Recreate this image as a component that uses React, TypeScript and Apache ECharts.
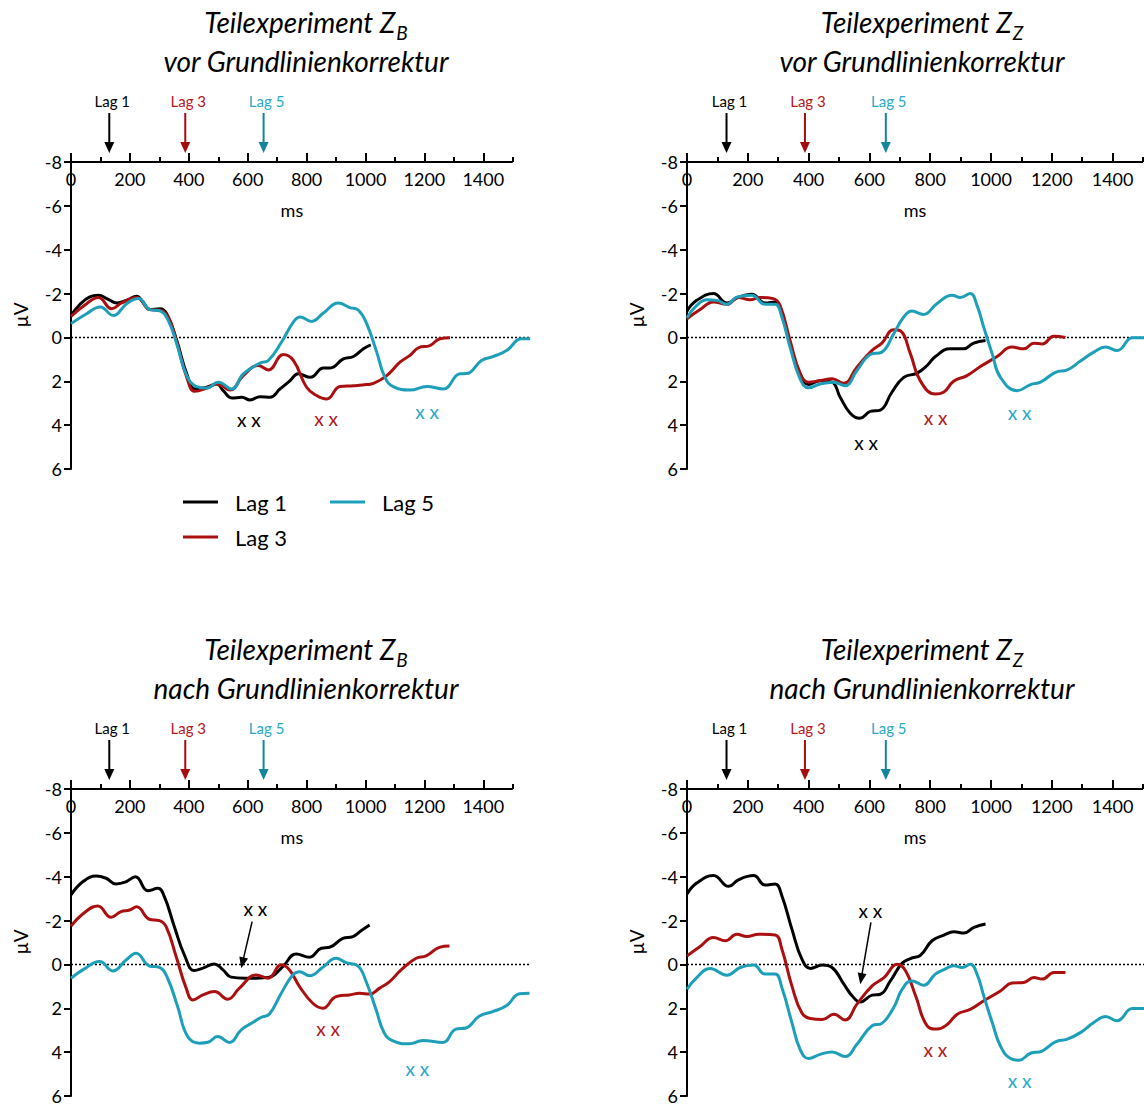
import React, { useEffect, useRef } from "react";
import * as echarts from "echarts";

const FONT = "Lato, 'Open Sans', sans-serif";

const LAG_NAMES = ["Lag 1", "Lag 3", "Lag 5"];
const LINE_COLORS = ["#000000", "#ab1010", "#1d9fba"];
const LABEL_COLORS = ["#000000", "#b3181b", "#2aa9c9"];
const ARROW_COLORS = ["#000000", "#a50d0d", "#12869f"];

// time axis: labelled range 0–1500 ms; the traces run slightly past its end
const X_AXIS_END = 1500;
const X_DATA_END = 1560;
const X_MAJOR = [0, 200, 400, 600, 800, 1000, 1200, 1400];
const X_MINOR = [100, 300, 500, 700, 900, 1100, 1300, 1500];
const Y_MIN = -8;
const Y_MAX = 6;
const Y_STEP = 2;

// Onset of each lag condition (ms), marked by arrows above the time axis
const ONSET_MS = [130, 388, 654];

const TITLE_MAIN = "Teilexperiment Z";

// ---- Teilexperiment Z_B, vor Grundlinienkorrektur: [ms, µV]
const zbVorLag1 = [
  [0, -1.0], [30, -1.5], [64, -1.85], [93, -1.92], [125, -1.75], [155, -1.57], [190, -1.7],
  [223, -1.88], [245, -1.6], [268, -1.27], [302, -1.31], [325, -1.08], [359, 0.14], [393, 1.66],
  [421, 2.35], [461, 2.27], [495, 2.12], [517, 2.43], [546, 2.76], [580, 2.73], [608, 2.85],
  [642, 2.7], [676, 2.73], [710, 2.35], [744, 1.97], [772, 1.66], [813, 1.82], [857, 1.39],
  [880, 1.39], [925, 0.98], [959, 0.87], [993, 0.52], [1018, 0.34],
];
const zbVorLag3 = [
  [0, -0.96], [53, -1.54], [93, -1.82], [138, -1.31], [172, -1.57], [223, -1.82], [268, -1.27],
  [302, -1.24], [330, -0.93], [359, 0.21], [393, 1.82], [421, 2.46], [461, 2.31], [495, 2.12],
  [540, 2.4], [585, 1.74], [636, 1.28], [670, 1.48], [721, 0.78], [755, 1.05], [800, 2.27],
  [834, 2.65], [868, 2.81], [913, 2.24], [959, 2.2], [1004, 2.15], [1027, 2.1], [1072, 1.74],
  [1117, 1.13], [1151, 0.82], [1180, 0.47], [1219, 0.37], [1253, 0.06], [1287, 0.02],
];
const zbVorLag5 = [
  [0, -0.63], [53, -1.08], [99, -1.39], [144, -1.0], [189, -1.54], [229, -1.77], [268, -1.27],
  [302, -1.21], [330, -0.78], [359, 0.29], [393, 1.74], [427, 2.24], [461, 2.31], [500, 2.04],
  [546, 2.35], [585, 1.66], [642, 1.17], [670, 1.05], [715, 0.21], [755, -0.7], [778, -0.93],
  [817, -0.73], [857, -1.11], [908, -1.57], [947, -1.36], [976, -1.24], [1004, -0.63],
  [1038, 0.67], [1066, 1.82], [1094, 2.24], [1151, 2.4], [1208, 2.24], [1264, 2.35],
  [1321, 1.66], [1343, 1.65], [1394, 1.05], [1434, 0.87], [1479, 0.6], [1530, 0.06], [1559, 0.06],
];

// ---- Teilexperiment Z_Z, vor Grundlinienkorrektur
const zzVorLag1 = [
  [0, -1.2], [32, -1.69], [87, -2.0], [131, -1.57], [169, -1.84], [213, -1.97], [257, -1.57],
  [290, -1.62], [306, -1.31], [339, 0.29], [372, 1.66], [400, 2.15], [438, 1.97], [477, 2.04],
  [504, 2.73], [537, 3.46], [568, 3.69], [603, 3.37], [636, 3.31], [674, 2.5], [713, 1.82],
  [757, 1.63], [790, 1.28], [817, 0.87], [866, 0.52], [910, 0.52], [943, 0.26], [982, 0.14],
];
const zzVorLag3 = [
  [0, -0.85], [43, -1.27], [87, -1.62], [131, -1.51], [169, -1.82], [208, -1.72], [240, -1.82],
  [284, -1.77], [306, -1.46], [339, 0.14], [372, 1.63], [400, 2.04], [438, 1.97], [477, 1.89],
  [515, 2.09], [559, 1.36], [608, 0.6], [641, 0.26], [680, -0.35], [702, -0.3], [735, 0.75],
  [767, 1.97], [817, 2.58], [844, 2.5], [877, 2.0], [921, 1.74], [965, 1.33], [1020, 0.87],
  [1069, 0.44], [1108, 0.52], [1141, 0.26], [1168, 0.3], [1207, -0.05], [1245, 0.0],
];
const zzVorLag5 = [
  [0, -0.9], [32, -1.46], [65, -1.72], [98, -1.69], [131, -1.51], [164, -1.84], [213, -1.92],
  [257, -1.51], [290, -1.51], [312, -0.93], [339, 0.44], [372, 1.89], [400, 2.3], [438, 2.12],
  [482, 2.04], [520, 2.2], [559, 1.51], [603, 0.78], [641, 0.67], [680, -0.17], [713, -0.93],
  [740, -1.2], [778, -1.05], [822, -1.54], [872, -1.92], [899, -1.82], [932, -2.0], [954, -1.46],
  [976, -0.47], [1004, 0.75], [1031, 1.82], [1086, 2.43], [1130, 2.15], [1163, 2.04],
  [1212, 1.59], [1251, 1.48], [1294, 1.08], [1338, 0.67], [1377, 0.44], [1415, 0.6],
  [1465, 0.02], [1503, 0.02], [1560, 0.02],
];

// ---- Teilexperiment Z_B, nach Grundlinienkorrektur
const zbNachLag1 = [
  [0, -3.17], [40, -3.77], [86, -4.03], [119, -3.93], [153, -3.67], [187, -3.77], [219, -4.0],
  [261, -3.36], [295, -3.47], [317, -3.09], [351, -1.72], [385, -0.43], [419, 0.28], [448, 0.17],
  [487, -0.02], [516, 0.25], [544, 0.58], [589, 0.63], [629, 0.63], [674, 0.58], [719, 0.1],
  [765, -0.48], [810, -0.33], [850, -0.74], [878, -0.78], [923, -1.19], [957, -1.27],
  [985, -1.54], [1014, -1.8],
];
const zbNachLag3 = [
  [0, -1.75], [40, -2.3], [91, -2.67], [136, -2.15], [170, -2.41], [199, -2.48], [223, -2.63],
  [266, -2.06], [300, -2.0], [323, -1.72], [357, -0.36], [391, 1.08], [414, 1.62], [448, 1.39],
  [487, 1.24], [532, 1.59], [572, 1.08], [629, 0.48], [669, 0.63], [714, 0.02], [742, 0.25],
  [776, 1.01], [821, 1.77], [855, 2.0], [900, 1.47], [945, 1.39], [980, 1.32], [1014, 1.35],
  [1048, 1.08], [1082, 0.78], [1121, 0.25], [1172, -0.28], [1206, -0.39], [1251, -0.78],
  [1285, -0.84],
];
const zbNachLag5 = [
  [0, 0.63], [40, 0.25], [97, -0.13], [142, 0.3], [187, -0.2], [221, -0.51], [266, 0.07],
  [300, 0.13], [328, 0.63], [362, 1.92], [396, 3.29], [436, 3.59], [465, 3.55], [498, 3.29],
  [538, 3.56], [578, 2.98], [617, 2.65], [646, 2.41], [674, 2.26], [714, 1.31], [753, 0.48],
  [776, 0.33], [810, 0.52], [855, 0.13], [900, -0.28], [934, -0.08], [974, 0.07], [1002, 0.78],
  [1036, 2.07], [1064, 3.14], [1093, 3.49], [1149, 3.62], [1195, 3.47], [1262, 3.56],
  [1307, 2.95], [1341, 2.9], [1387, 2.35], [1432, 2.15], [1478, 1.89], [1523, 1.34], [1557, 1.31],
];

// ---- Teilexperiment Z_Z, nach Grundlinienkorrektur
const zzNachLag1 = [
  [0, -3.21], [32, -3.71], [87, -4.05], [137, -3.56], [169, -3.86], [219, -4.05], [257, -3.62],
  [290, -3.67], [312, -3.13], [345, -1.61], [378, -0.24], [406, 0.18], [445, 0.03], [477, 0.14],
  [516, 0.9], [543, 1.43], [570, 1.71], [609, 1.4], [636, 1.36], [669, 0.75], [708, -0.06],
  [735, -0.27], [768, -0.42], [806, -1.08], [845, -1.34], [878, -1.49], [911, -1.43],
  [944, -1.69], [982, -1.84],
];
const zzNachLag3 = [
  [0, -0.39], [43, -0.82], [87, -1.23], [126, -1.08], [164, -1.38], [197, -1.27], [236, -1.38],
  [290, -1.34], [312, -0.7], [345, 0.98], [378, 2.22], [406, 2.47], [445, 2.51], [483, 2.27],
  [520, 2.53], [559, 1.81], [609, 0.98], [648, 0.6], [692, -0.01], [719, 0.29], [752, 1.43],
  [790, 2.8], [823, 2.95], [856, 2.74], [889, 2.27], [933, 2.04], [976, 1.66], [1031, 1.21],
  [1069, 0.85], [1108, 0.82], [1141, 0.6], [1168, 0.67], [1207, 0.37], [1245, 0.37],
];
const zzNachLag5 = [
  [0, 1.13], [32, 0.6], [76, 0.18], [131, 0.49], [175, 0.14], [219, 0.03], [257, 0.44],
  [290, 0.44], [312, 1.05], [345, 2.65], [372, 3.87], [400, 4.29], [438, 4.1], [477, 3.99],
  [520, 4.2], [559, 3.64], [609, 2.8], [641, 2.69], [680, 1.96], [708, 1.13], [740, 0.75],
  [778, 0.95], [817, 0.44], [845, 0.24], [878, 0.06], [905, 0.14], [932, -0.01], [954, 0.44],
  [976, 1.43], [1004, 2.65], [1031, 3.72], [1064, 4.29], [1092, 4.37], [1130, 4.05],
  [1168, 3.95], [1212, 3.53], [1251, 3.41], [1294, 3.11], [1338, 2.65], [1377, 2.37],
  [1415, 2.57], [1465, 2.01], [1503, 2.01], [1560, 2.01],
];

// "x x" significance marks, one per lag: [ms, µV]
const zbVorMarks = [[604, 3.75], [866, 3.69], [1209, 3.39]];
const zzVorMarks = [[589, 4.81], [818, 3.65], [1094, 3.42]];
const zbNachMarks = [[626, -2.56], [873, 2.92], [1176, 4.75]];
const zzNachMarks = [[603, -2.48], [817, 3.88], [1094, 5.31]];

// Pointer from the Lag-1 mark down to its trough: [from, to] in [ms, µV]
const zbNachPointer = [[615, -1.95], [578, 0.17]];
const zzNachPointer = [[605, -1.92], [570, 0.9]];

const GRID_H = 307;
// pixels per ms in the left and right columns
const SCALE_L = 0.2945;
const SCALE_R = 0.304;
// drawing surface is wider than the visible page so the right-hand traces can run off its edge
const PAGE_W = 1144;
const PAGE_H = 1106;
const SURFACE_W = 1200;

const PANELS = [
  { left: 71, top: 162, scale: SCALE_L, sub: "B", subtitle: "vor Grundlinienkorrektur",
    curves: [zbVorLag1, zbVorLag3, zbVorLag5], marks: zbVorMarks, pointer: null },
  { left: 687, top: 162, scale: SCALE_R, sub: "Z", subtitle: "vor Grundlinienkorrektur",
    curves: [zzVorLag1, zzVorLag3, zzVorLag5], marks: zzVorMarks, pointer: null },
  { left: 71, top: 789, scale: SCALE_L, sub: "B", subtitle: "nach Grundlinienkorrektur",
    curves: [zbNachLag1, zbNachLag3, zbNachLag5], marks: zbNachMarks, pointer: zbNachPointer },
  { left: 687, top: 789, scale: SCALE_R, sub: "Z", subtitle: "nach Grundlinienkorrektur",
    curves: [zzNachLag1, zzNachLag3, zzNachLag5], marks: zzNachMarks, pointer: zzNachPointer },
];

function buildOption() {
  const grid: any[] = [];
  const xAxis: any[] = [];
  const yAxis: any[] = [];
  const series: any[] = [];

  PANELS.forEach((p, i) => {
    grid.push({ left: p.left, top: p.top, width: X_DATA_END * p.scale, height: GRID_H });

    // time axis: major ticks + labels (line itself is drawn up to 1500 ms separately)
    xAxis.push({
      gridIndex: i, type: "value", position: "top", min: 0, max: X_DATA_END, interval: 200,
      axisLine: { show: false, onZero: false },
      axisTick: {
        show: true, inside: false, length: 9, customValues: X_MAJOR,
        lineStyle: { color: "#000", width: 2 },
      },
      axisLabel: {
        inside: true, margin: 8, customValues: X_MAJOR, color: "#000",
        fontSize: 18, fontFamily: FONT, formatter: (v: number) => String(v),
      },
      splitLine: { show: false },
    });
    // minor ticks every 100 ms on the same line
    xAxis.push({
      gridIndex: i, type: "value", position: "bottom", offset: -GRID_H,
      min: 0, max: X_DATA_END, interval: 100,
      axisLine: { show: false, onZero: false },
      axisTick: {
        show: true, inside: true, length: 5, customValues: X_MINOR,
        lineStyle: { color: "#000", width: 2 },
      },
      axisLabel: { show: false },
      splitLine: { show: false },
    });

    yAxis.push({
      gridIndex: i, type: "value", inverse: true, min: Y_MIN, max: Y_MAX, interval: Y_STEP,
      axisLine: { show: true, onZero: false, lineStyle: { color: "#000", width: 2 } },
      axisTick: { show: true, length: 7, lineStyle: { color: "#000", width: 2 } },
      axisLabel: { margin: 9, color: "#000", fontSize: 18, fontFamily: FONT },
      splitLine: { show: false },
    });

    series.push({
      type: "line", name: "0 µV", xAxisIndex: 2 * i, yAxisIndex: i,
      data: [[0, 0], [X_DATA_END, 0]], symbol: "none", clip: false, silent: true,
      lineStyle: { color: "#000", width: 1.5, type: [2, 2] }, z: 1,
    });
    p.curves.forEach((d, j) => {
      series.push({
        type: "line", name: LAG_NAMES[j], xAxisIndex: 2 * i, yAxisIndex: i,
        data: d, symbol: "none", showSymbol: false, smooth: 0.45,
        clip: false, silent: true,
        lineStyle: { color: LINE_COLORS[j], width: 3 }, itemStyle: { color: LINE_COLORS[j] },
        z: 2 + j,
      });
    });
  });

  return { animation: false, backgroundColor: "#fff", grid, xAxis, yAxis, series };
}

function arrowParts(x1: number, y1: number, x2: number, y2: number, color: string,
  width: number, headLen: number, headHalf: number) {
  const dx = x2 - x1;
  const dy = y2 - y1;
  const L = Math.hypot(dx, dy) || 1;
  const ux = dx / L;
  const uy = dy / L;
  const bx = x2 - ux * headLen;
  const by = y2 - uy * headLen;
  return [
    { type: "line", shape: { x1, y1, x2: bx + ux, y2: by + uy },
      style: { stroke: color, lineWidth: width }, z: 50 },
    { type: "polygon",
      shape: { points: [[x2, y2], [bx - uy * headHalf, by + ux * headHalf], [bx + uy * headHalf, by - ux * headHalf]] },
      style: { fill: color }, z: 50 },
  ];
}

function buildGraphics(chart: any) {
  const els: any[] = [];
  const canvas = document.createElement("canvas");
  const ctx = canvas.getContext("2d")!;
  const measure = (t: string, size: number) => {
    ctx.font = `italic ${size}px Lato`;
    return ctx.measureText(t).width;
  };
  const TITLE_SIZE = 28;
  const SUB_SIZE = 19;

  PANELS.forEach((p, i) => {
    const finder = { xAxisIndex: 2 * i, yAxisIndex: i };
    const px = (x: number, y: number) => chart.convertToPixel(finder, [x, y]) as number[];
    const cx = p.left + 235;

    // time axis line, 0–1500 ms
    const a0 = px(0, Y_MIN);
    const a1 = px(X_AXIS_END, Y_MIN);
    els.push({ type: "line", shape: { x1: a0[0], y1: a0[1], x2: a1[0], y2: a1[1] },
      style: { stroke: "#000", lineWidth: 2 }, z: 30 });

    // two-line italic title with subscript
    const wMain = measure(TITLE_MAIN, TITLE_SIZE);
    const wSub = measure(p.sub, SUB_SIZE);
    const x0 = cx - (wMain + wSub + 1) / 2;
    els.push({ type: "text", x: x0, y: p.top - 140, z: 40,
      style: { text: TITLE_MAIN, fontSize: TITLE_SIZE, fontStyle: "italic", fontFamily: FONT,
        fill: "#000", align: "left", verticalAlign: "middle" } });
    els.push({ type: "text", x: x0 + wMain + 1, y: p.top - 130, z: 40,
      style: { text: p.sub, fontSize: SUB_SIZE, fontStyle: "italic", fontFamily: FONT,
        fill: "#000", align: "left", verticalAlign: "middle" } });
    els.push({ type: "text", x: cx, y: p.top - 101, z: 40,
      style: { text: p.subtitle, fontSize: TITLE_SIZE, fontStyle: "italic", fontFamily: FONT,
        fill: "#000", align: "center", verticalAlign: "middle" } });

    // axis names
    els.push({ type: "text", x: p.left - 51, y: p.top + 153, rotation: Math.PI / 2, z: 40,
      style: { text: "µV", fontSize: 19, fontFamily: FONT, fill: "#000",
        align: "center", verticalAlign: "middle" } });
    els.push({ type: "text", x: (a0[0] + a1[0]) / 2, y: p.top + 48, z: 40,
      style: { text: "ms", fontSize: 18, fontFamily: FONT, fill: "#000",
        align: "center", verticalAlign: "middle" } });

    // onset arrows above the time axis
    ONSET_MS.forEach((ms, j) => {
      const x = px(ms, Y_MIN)[0];
      els.push({ type: "text", x: x + 3, y: p.top - 61, z: 40,
        style: { text: LAG_NAMES[j], fontSize: 15, fontFamily: FONT, fill: LABEL_COLORS[j],
          align: "center", verticalAlign: "middle" } });
      els.push(...arrowParts(x, p.top - 49, x, p.top - 9, ARROW_COLORS[j], 2, 11, 5));
    });

    // "x x" marks
    p.marks.forEach((m, j) => {
      const [mx, my] = px(m[0], m[1]);
      els.push({ type: "text", x: mx, y: my, z: 40,
        style: { text: "x x", fontSize: 19, fontFamily: FONT, fill: LABEL_COLORS[j],
          align: "center", verticalAlign: "middle" } });
    });

    if (p.pointer) {
      const [a, b] = p.pointer;
      const [x1, y1] = px(a[0], a[1]);
      const [x2, y2] = px(b[0], b[1]);
      els.push(...arrowParts(x1, y1, x2, y2, "#000", 1.5, 11, 4.5));
    }
  });

  // legend for the three lag conditions
  const legendItems = [
    { x: 183, y: 502 }, { x: 183, y: 537 }, { x: 330, y: 502 },
  ];
  legendItems.forEach((it, j) => {
    els.push({ type: "line", shape: { x1: it.x, y1: it.y, x2: it.x + 35, y2: it.y },
      style: { stroke: LINE_COLORS[j], lineWidth: 3 }, z: 40 });
    els.push({ type: "text", x: it.x + 52, y: it.y, z: 40,
      style: { text: LAG_NAMES[j], fontSize: 22, fontFamily: FONT, fill: "#000",
        align: "left", verticalAlign: "middle" } });
  });

  return els;
}

export default function App() {
  const ref = useRef<HTMLDivElement>(null);
  useEffect(() => {
    if (!ref.current) return;
    const chart = echarts.init(ref.current, null, { renderer: "svg" });
    chart.setOption(buildOption());
    chart.setOption({ graphic: { elements: buildGraphics(chart) } });
    return () => chart.dispose();
  }, []);
  return (
    <div
      style={{
        position: "absolute", left: 0, top: 0, width: PAGE_W, height: PAGE_H,
        overflow: "hidden", background: "#fff",
      }}
    >
      <div ref={ref} style={{ width: SURFACE_W, height: PAGE_H }} />
    </div>
  );
}
